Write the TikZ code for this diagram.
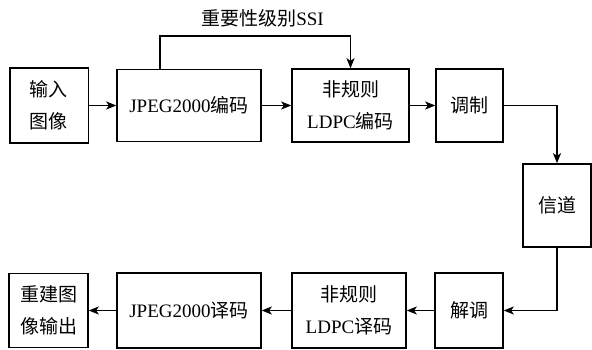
\documentclass[tikz,border=0pt]{standalone}
\usepackage{fontspec}
\setmainfont{Liberation Serif}
\newfontfamily\cjk{Noto Sans CJK SC}
\newcommand\zhtxt[1]{{\cjk #1}}
\usetikzlibrary{arrows.meta}
\begin{document}
\begin{tikzpicture}[x=1pt,y=-1pt,
  box/.style={draw,line width=1.5pt,minimum width=#1,inner sep=0pt,align=center,
    font=\fontsize{19}{32}\selectfont},
  arr/.style={line width=1.5pt,-{Stealth[length=10pt,width=8pt,inset=2.5pt]}},
  lbl/.style={font=\fontsize{19}{24}\selectfont}]
\useasboundingbox (0,0) rectangle (592,350);
% top row
\node[box=78.5pt,minimum height=75pt] (in) at (49,105.5) {\zhtxt{输入}\\\zhtxt{图像}};
\node[box=144pt,minimum height=72pt] (jenc) at (189,105.5) {JPEG2000\zhtxt{编码}};
\node[box=117pt,minimum height=73pt] (lenc) at (350.5,105.5) {\zhtxt{非规则}\\LDPC\zhtxt{编码}};
\node[box=67pt,minimum height=73pt] (mod) at (469.5,105.5) {\zhtxt{调制}};
\node[box=68pt,minimum height=83pt] (chan) at (557,205.5) {\zhtxt{信道}};
% bottom row
\node[box=79pt,minimum height=74pt] (out) at (48.5,310.5) {\zhtxt{重建图}\\\zhtxt{像输出}};
\node[box=144pt,minimum height=75pt] (jdec) at (189,310.5) {JPEG2000\zhtxt{译码}};
\node[box=114pt,minimum height=75pt] (ldec) at (349,310.5) {\zhtxt{非规则}\\LDPC\zhtxt{译码}};
\node[box=68pt,minimum height=75pt] (demod) at (469,310.5) {\zhtxt{解调}};
% SSI
\coordinate (ssiL) at (160,36);
\node[lbl] (ssi) at (262.5,18) {\zhtxt{重要性级别}SSI};
% connectors
\draw[arr] (in) -- (jenc);
\draw[arr] (jenc) -- (lenc);
\draw[arr] (lenc) -- (mod);
\draw[arr] (mod.east) -| (chan.north);
\draw[arr] (chan.south) |- (demod.east);
\draw[arr] (demod) -- (ldec);
\draw[arr] (ldec) -- (jdec);
\draw[arr] (jdec) -- (out);
\draw[arr] (jenc.north -| ssiL) |- (lenc.north |- ssiL) -- (lenc.north);
\end{tikzpicture}
\end{document}
